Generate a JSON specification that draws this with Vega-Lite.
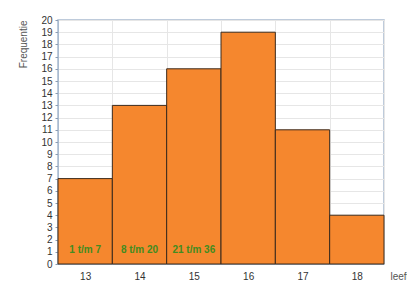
{
  "$schema": "https://vega.github.io/schema/vega-lite/v6.json",
  "autosize": "none",
  "width": 326,
  "height": 244,
  "padding": {"left": 58, "top": 20, "right": 23, "bottom": 20},
  "background": "white",
  "title": {"text": "Leeftijd", "fontSize": 10, "font": "Liberation Sans", "fontWeight": "normal", "color": "#666", "offset": 15, "dx": 17},
  "config": {
    "view": {"stroke": "#a9bbd0", "strokeWidth": 1.5},
    "axis": {"labelFont": "Liberation Sans", "titleFont": "Liberation Sans", "labelColor": "#333", "gridColor": "#e6e6e6", "gridWidth": 1},
    "axisY": {"title": "Frequentie", "titleFontSize": 10, "titleFontWeight": "normal", "titleColor": "#555", "titleAnchor": "end", "titlePadding": 12,
      "values": [0,1,2,3,4,5,6,7,8,9,10,11,12,13,14,15,16,17,18,19,20], "labelFontSize": 10, "labelPadding": 3, "tickSize": 3, "tickColor": "#8a9cb3", "domainColor": "#a9bbd0", "grid": true}
  },
  "data": {"values": [
    {"leeftijd": "13", "frequentie": 7, "label": "1 t/m 7"},
    {"leeftijd": "14", "frequentie": 13, "label": "8 t/m 20"},
    {"leeftijd": "15", "frequentie": 16, "label": "21 t/m 36"},
    {"leeftijd": "16", "frequentie": 19, "label": ""},
    {"leeftijd": "17", "frequentie": 11, "label": ""},
    {"leeftijd": "18", "frequentie": 4, "label": ""}
  ]},
  "encoding": {
    "x": {"field": "leeftijd", "type": "ordinal", "scale": {"paddingInner": 0, "paddingOuter": 0},
      "axis": {"title": "leeftijd", "titleX": 332, "titleY": 12, "titleAlign": "left", "titleBaseline": "middle", "titleFontSize": 10, "titleFontWeight": "normal", "titleColor": "#555",
        "labelAngle": 0, "labelFontSize": 10, "labelPadding": 7, "tickBand": "extent", "ticks": false, "domainColor": "#a9bbd0", "grid": true}}
  },
  "layer": [
    {
      "mark": {"type": "bar", "fill": "#f5872e", "stroke": "#3b2a1c", "strokeWidth": 1},
      "encoding": {
        "y": {"field": "frequentie", "type": "quantitative", "scale": {"domain": [0, 20], "nice": false},
          "axis": {"title": "Frequentie", "values": [0,1,2,3,4,5,6,7,8,9,10,11,12,13,14,15,16,17,18,19,20]}}
      }
    },
    {
      "mark": {"type": "text", "color": "#428c20", "fontWeight": "bold", "fontSize": 10, "font": "Liberation Sans", "baseline": "middle"},
      "encoding": {
        "y": {"datum": 1.15, "type": "quantitative", "axis": {"title": "Frequentie", "values": [0,1,2,3,4,5,6,7,8,9,10,11,12,13,14,15,16,17,18,19,20]}},
        "text": {"field": "label"}
      }
    }
  ]
}
